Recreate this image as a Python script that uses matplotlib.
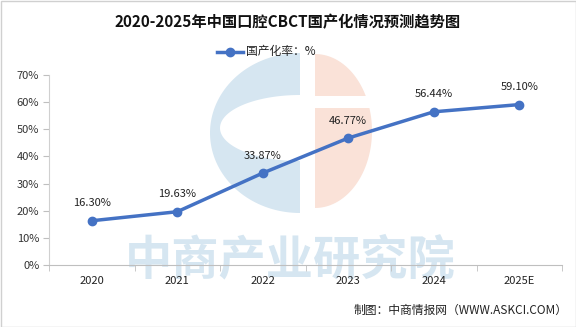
import numpy as np
import matplotlib.pyplot as plt
from matplotlib.patches import Polygon, Rectangle
from matplotlib.lines import Line2D

plt.rcParams['font.family'] = ['Noto Sans CJK SC', 'DejaVu Sans']

years = ["2020", "2021", "2022", "2023", "2024", "2025E"]
rate = [16.30, 19.63, 33.87, 46.77, 56.44, 59.10]
yticks = [0, 10, 20, 30, 40, 50, 60, 70]

W, H = 576, 327
fig = plt.figure(figsize=(W / 100, H / 100), dpi=100)


def fx(px):
    return px / W


def fy(py):
    return 1 - py / H


def half_ellipse(cx, cy, rx, ry, side, **kw):
    # side=-1 left half, side=1 right half
    t = np.linspace(-np.pi / 2, np.pi / 2, 80)
    pts = np.column_stack([cx + side * rx * np.cos(t), cy + ry * np.sin(t)])
    return Polygon(pts, closed=True, **kw)


# watermark logo (pixel coordinates on the figure)
wm = fig.add_axes([0, 0, 1, 1], zorder=0)
wm.set_xlim(0, W)
wm.set_ylim(H, 0)
wm.axis("off")
blue_wm = "#d6e6f1"
peach_wm = "#fae2d8"
wm.add_patch(half_ellipse(300, 133, 90, 80, -1, fc=blue_wm, ec="none"))
wm.add_patch(half_ellipse(300, 128, 80, 33, -1, fc="white", ec="none"))
wm.add_patch(half_ellipse(315, 131, 57, 77, 1, fc=peach_wm, ec="none"))
wm.add_patch(Rectangle((314, 96), 70, 12, fc="white", ec="none"))
wm.text(290, 260, "中商产业研究院", fontsize=34, fontweight="bold",
        color=blue_wm, ha="center", va="center")
# border
wm.add_patch(Rectangle((0.5, 0.5), W - 1, H - 1, fill=False, ec="#d0d0d0", lw=1))

ax = fig.add_axes([fx(49), fy(265), fx(562) - fx(49), fy(75) - fy(265)], zorder=1)
ax.patch.set_alpha(0)
x = list(range(len(years)))
ax.plot(x, rate, color="#4472c4", lw=2.5, marker="o", ms=6, zorder=3)
for xi, v in zip(x, rate):
    ax.annotate(f"{v:.2f}%", (xi, v), xytext=(0, 9), textcoords="offset points",
                ha="center", va="bottom", fontsize=8, color="#222222")

ax.set_xlim(-0.5, len(years) - 0.5)
ax.set_ylim(0, 70)
ax.set_yticks(yticks)
ax.set_yticklabels([f"{t}%" for t in yticks], fontsize=8, color="#333333")
ax.set_xticks(x)
ax.set_xticklabels(years, fontsize=8, color="#222222")
ax.set_xticks([i - 0.5 for i in range(len(years) + 1)], minor=True)
ax.tick_params(axis="x", which="major", length=0, pad=8)
ax.tick_params(axis="x", which="minor", length=4, color="#bfbfbf", direction="out")
ax.tick_params(axis="y", length=4, color="#bfbfbf", pad=3)
for s in ["top", "right"]:
    ax.spines[s].set_visible(False)
ax.spines["left"].set_color("#d0d0d0")
ax.spines["bottom"].set_color("#bfbfbf")

fig.text(0.5, fy(22), "2020-2025年中国口腔CBCT国产化情况预测趋势图", ha="center",
         va="center", fontsize=11, fontweight="bold", color="#111111")

fig.add_artist(Line2D([fx(217), fx(243)], [fy(52), fy(52)], color="#4472c4", lw=2.5))
fig.add_artist(Line2D([fx(230)], [fy(52)], color="#4472c4", marker="o", ms=6))
fig.text(fx(246), fy(52), "国产化率：%", ha="left", va="center", fontsize=8.5, color="#222222")

fig.text(fx(568), fy(310), "制图：中商情报网（WWW.ASKCI.COM）", ha="right", va="center",
         fontsize=8.5, color="#222222")

fig.savefig("out.png", dpi=100)
